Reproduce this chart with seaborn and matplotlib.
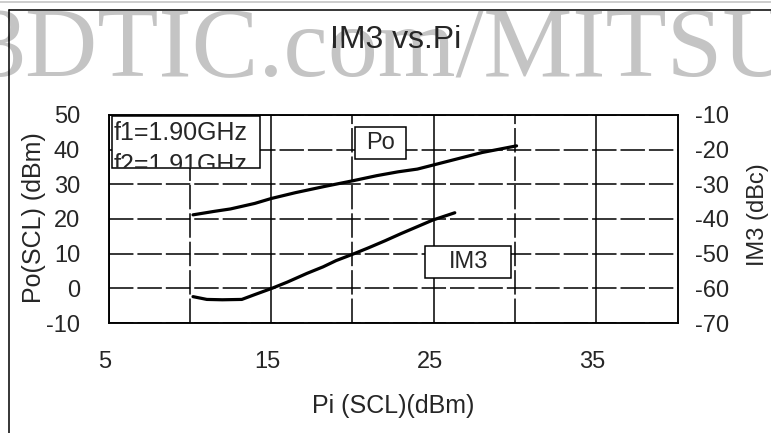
import matplotlib.pyplot as plt
import numpy as np
import pandas as pd
import seaborn as sns
from matplotlib.patches import Rectangle
from matplotlib.lines import Line2D
from matplotlib.transforms import ScaledTranslation

# curves
pi_po = [10.2, 11.5, 12.5, 14.0, 15.0, 16.5, 18.3, 20.0, 21.5, 22.8, 24.0, 25.0, 26.5, 28.0, 29.0, 30.1]
po = [21.2, 22.2, 22.9, 24.5, 25.9, 27.6, 29.4, 31.0, 32.5, 33.6, 34.4, 35.6, 37.4, 39.2, 40.1, 41.1]

pi_im3 = [10.2, 11.05, 12.0, 13.2, 14.0, 15.05, 16.0, 17.2, 18.2, 19.0, 20.0, 21.0, 22.0, 23.0, 24.0, 24.95, 26.3]
im3 = [-62.4, -63.2, -63.3, -63.2, -61.8, -60.0, -58.2, -55.7, -53.8, -52.0, -50.2, -48.3, -46.3, -44.2, -42.2, -40.3, -38.2]

x_ticks = [5, 15, 25, 35]
x_minor = [10, 20, 30]
po_ticks = [-10, 0, 10, 20, 30, 40, 50]
im3_ticks = [-70, -60, -50, -40, -30, -20, -10]

sns.set_style('white')
plt.rcParams['font.family'] = ['Liberation Sans', 'DejaVu Sans']
plt.rcParams['axes.unicode_minus'] = False

W, H = 771, 433
fig = plt.figure(figsize=(W / 100, H / 100), dpi=100)
ax = fig.add_axes([108.5 / W, 110 / H, 569 / W, 208 / H])
ax2 = ax.twinx()

df_po = pd.DataFrame({'Pi': pi_po, 'Po': po})
df_im3 = pd.DataFrame({'Pi': pi_im3, 'IM3': im3})
sns.lineplot(data=df_po, x='Pi', y='Po', ax=ax, color='black', lw=2.3, zorder=3)
sns.lineplot(data=df_im3, x='Pi', y='IM3', ax=ax2, color='black', lw=2.3, zorder=3)

# grid: solid at labelled x ticks, dashed elsewhere
dash = (0, (16, 2.6))
ax.set_xticks(x_ticks)
ax.set_xticks(x_minor, minor=True)
ax.set_yticks(po_ticks)
ax2.set_yticks(im3_ticks)
ax.grid(which='major', axis='x', color='black', lw=1.1, ls='-')
ax.grid(which='minor', axis='x', color='black', lw=1.1, ls=dash)
ax.grid(which='major', axis='y', color='black', lw=1.1, ls=dash)
ax2.grid(False)

ax.tick_params(which='both', length=0)
ax2.tick_params(which='both', length=0)
ax.tick_params(axis='y', pad=20.5, labelsize=17)
ax.tick_params(axis='x', pad=20.5, labelsize=17)
ax2.tick_params(axis='y', pad=12.6, labelsize=17)
shift = ScaledTranslation(-4 / 100, 0, fig.dpi_scale_trans)
for lab in ax.get_xticklabels():
    lab.set_transform(lab.get_transform() + shift)

for a in (ax, ax2):
    for s in a.spines.values():
        s.set_color('black')
        s.set_linewidth(1.1)

ax.set_xlabel('Pi (SCL)(dBm)', fontsize=18, va='baseline')
ax.xaxis.set_label_coords(0.5, -0.432)
ax.set_ylabel('Po(SCL) (dBm)', fontsize=18, va='center')
ax.yaxis.set_label_coords(-0.131, 0.507)
ax2.set_ylabel('IM3 (dBc)', fontsize=17, va='center')
ax2.yaxis.set_label_coords(1.142, 0.52)

# annotation boxes (left-axis data units)
def box(x0, x1, y0, y1):
    r = Rectangle((x0, y0), x1 - x0, y1 - y0, transform=ax.transData,
                  facecolor='white', edgecolor='black', lw=1.1, zorder=5)
    ax2.add_patch(r)
    return r

fbox = box(5.22, 14.33, 34.7, 49.7)
ax2.text(5.34, 42.8, 'f1=1.90GHz', transform=ax.transData, fontsize=18, zorder=6)
t2 = ax2.text(5.34, 33.6, 'f2=1.91GHz', transform=ax.transData, fontsize=18, zorder=6, clip_on=True)
t2.set_clip_path(fbox)

box(20.18, 23.32, 37.3, 46.5)
ax2.text(21.75, 41.9, 'Po', transform=ax.transData, fontsize=17, ha='center', va='center', zorder=6)
box(24.49, 29.78, 3.0, 12.2)
ax2.text(27.13, 7.6, 'IM3', transform=ax.transData, fontsize=17, ha='center', va='center', zorder=6)

ax.set_xlim(5, 40)
ax.set_ylim(-10, 50)
ax2.set_ylim(-70, -10)

# watermark, title and page frame
fig.text(-24 / W, 1 - 76 / H, '3DTIC.com/MITSU', family='Liberation Serif', fontsize=72,
         color='#c4c4c4', ha='left', va='baseline', zorder=0.5)
fig.text(396 / W, 1 - 48 / H, 'IM3 vs.Pi', fontsize=23, ha='center', va='baseline', zorder=3)
fig.add_artist(Line2D([8.5 / W, 8.5 / W], [0, 1 - 10 / H], transform=fig.transFigure, color='black', lw=1.1))
fig.add_artist(Line2D([8.5 / W, 1], [1 - 10 / H, 1 - 10 / H], transform=fig.transFigure, color='black', lw=1.1))
fig.add_artist(Line2D([0, 1], [1 - 1.5 / H, 1 - 1.5 / H], transform=fig.transFigure, color='#c0c0c0', lw=1.1))

fig.savefig('out.png', dpi=100)
